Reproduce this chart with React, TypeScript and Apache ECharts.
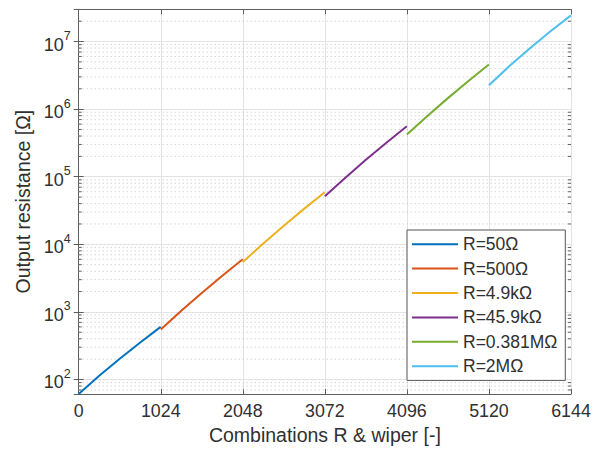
import React, { useEffect, useRef } from 'react';
import * as echarts from 'echarts';

// ---- data ----
const seriesNames = ['R=50Ω', 'R=500Ω', 'R=4.9kΩ', 'R=45.9kΩ', 'R=0.381MΩ', 'R=2MΩ'];
const seriesColors = ['#0072BD', '#D95319', '#EDB120', '#7E2F8E', '#77AC30', '#4DBEEE'];
const segmentStarts = [0, 1024, 2048, 3072, 4096, 5120];
const sampleSteps = [0, 256, 512, 768, 1023];
const r50 = [61, 113.5, 203, 352, 600];
const r500 = [550, 1038, 1910, 3430, 6000];
const r4k9 = [5470, 10280, 18840, 33730, 59000];
const r45k9 = [51400, 96800, 177800, 319000, 558000];
const r381k = [421000, 792000, 1455000, 2610000, 4570000];
const r2M = [2250000, 4340000, 7980000, 14190000, 24400000];
const seriesValues = [r50, r500, r4k9, r45k9, r381k, r2M];

const xTickInterval = 1024;
const xMin = 0;
const xMax = 6144;
const yMin = 61;
const yMax = 3e7;
const minorMultipliers = [2, 3, 4, 5, 6, 7, 8, 9];
const minorDecades = [1, 10, 100, 1000, 10000, 100000, 1000000, 10000000];

const FONT = '"Liberation Sans", Arial, Helvetica, sans-serif';
const TXT = '#303030';
const AXIS = '#5e5e5e';

export default function App() {
  const ref = useRef<HTMLDivElement>(null);

  useEffect(() => {
    if (!ref.current) return;
    const chart = echarts.init(ref.current, undefined, { renderer: 'svg' });

    const minorValues: number[] = [];
    minorDecades.forEach((d) =>
      minorMultipliers.forEach((m) => {
        const v = m * d;
        if (v > yMin && v < yMax) minorValues.push(v);
      })
    );

    const lineSeries = seriesNames.map((name, i) => ({
      name,
      type: 'line',
      xAxisIndex: 0,
      yAxisIndex: 0,
      data: seriesValues[i].map((v, j) => [segmentStarts[i] + sampleSteps[j], v]),
      showSymbol: false,
      smooth: false,
      lineStyle: { color: seriesColors[i], width: 2 },
      itemStyle: { color: seriesColors[i] },
      z: 5,
    }));

    const supLabel = (value: number) => {
      const e = Math.round(Math.log10(value));
      return '{b|10}{s|' + e + '}';
    };

    const option: any = {
      animation: false,
      backgroundColor: '#ffffff',
      textStyle: { fontFamily: FONT },
      grid: { left: 78.7, right: 32, top: 9.3, bottom: 59 },
      legend: {
        data: seriesNames,
        orient: 'vertical',
        left: 407,
        top: 230,
        backgroundColor: '#ffffff',
        borderColor: '#555555',
        borderWidth: 1,
        padding: [2, 8, 2, 5],
        itemGap: 0,
        itemWidth: 46,
        itemHeight: 2,
        icon: 'rect',
        textStyle: { fontSize: 17.5, color: TXT, fontFamily: FONT, lineHeight: 24.4 },
      },
      xAxis: [
        {
          type: 'value',
          min: xMin,
          max: xMax,
          interval: xTickInterval,
          name: 'Combinations R & wiper [-]',
          nameLocation: 'middle',
          nameGap: 31,
          nameTextStyle: { fontSize: 19.5, color: TXT, fontFamily: FONT },
          axisLine: { show: true, lineStyle: { color: AXIS, width: 1 } },
          axisTick: { show: true, inside: true, length: 5, lineStyle: { color: AXIS } },
          axisLabel: {
            fontSize: 17.8,
            color: TXT,
            margin: 7.5,
            fontFamily: FONT,
            formatter: (v: number) => String(v),
          },
          splitLine: { show: true, lineStyle: { color: '#e3e3e3', width: 1 } },
        },
        {
          type: 'value',
          position: 'top',
          min: xMin,
          max: xMax,
          interval: xTickInterval,
          axisLine: { show: true, lineStyle: { color: AXIS, width: 1 } },
          axisTick: { show: true, inside: true, length: 5, lineStyle: { color: AXIS } },
          axisLabel: { show: false },
          splitLine: { show: false },
        },
      ],
      yAxis: [
        {
          type: 'log',
          logBase: 10,
          min: yMin,
          max: yMax,
          name: 'Output resistance [Ω]',
          nameLocation: 'middle',
          nameGap: 40,
          nameTextStyle: { fontSize: 19.5, color: TXT, fontFamily: FONT },
          axisLine: { show: true, lineStyle: { color: AXIS, width: 1 } },
          axisTick: { show: true, inside: true, length: 5, lineStyle: { color: AXIS } },
          axisLabel: {
            showMinLabel: false,
            showMaxLabel: false,
            margin: 8,
            formatter: supLabel,
            rich: {
              b: { fontSize: 18, color: TXT, fontFamily: FONT, lineHeight: 24, verticalAlign: 'bottom' },
              s: { fontSize: 12.5, color: TXT, fontFamily: FONT, lineHeight: 24, verticalAlign: 'top' },
            },
          },
          splitLine: { show: true, lineStyle: { color: '#e3e3e3', width: 1 } },
        },
        {
          type: 'log',
          logBase: 10,
          position: 'right',
          min: yMin,
          max: yMax,
          axisLine: { show: true, lineStyle: { color: AXIS, width: 1 } },
          axisTick: { show: true, inside: true, length: 5, lineStyle: { color: AXIS } },
          axisLabel: { show: false },
          splitLine: { show: false },
        },
      ],
      series: [
        {
          name: 'minor-grid',
          type: 'custom',
          xAxisIndex: 0,
          yAxisIndex: 0,
          silent: true,
          z: 1,
          data: minorValues.map((v) => [xMin, v]),
          renderItem: (params: any, api: any) => {
            const v = api.value(1);
            const a = api.coord([xMin, v]);
            const b = api.coord([xMax, v]);
            return {
              type: 'group',
              children: [
                {
                  type: 'line',
                  shape: { x1: a[0], y1: a[1], x2: b[0], y2: b[1] },
                  style: { stroke: '#c4c4c4', lineWidth: 1, lineDash: [1, 3] },
                },
                {
                  type: 'line',
                  shape: { x1: a[0], y1: a[1], x2: a[0] + 3, y2: a[1] },
                  style: { stroke: AXIS, lineWidth: 1 },
                },
                {
                  type: 'line',
                  shape: { x1: b[0] - 3, y1: b[1], x2: b[0], y2: b[1] },
                  style: { stroke: AXIS, lineWidth: 1 },
                },
              ],
            };
          },
        },
        ...lineSeries,
      ],
    };

    chart.setOption(option);
    return () => chart.dispose();
  }, []);

  return (
    <div
      ref={ref}
      style={{ position: 'absolute', left: 0, top: 0, width: 603, height: 453, background: '#fff' }}
    />
  );
}
